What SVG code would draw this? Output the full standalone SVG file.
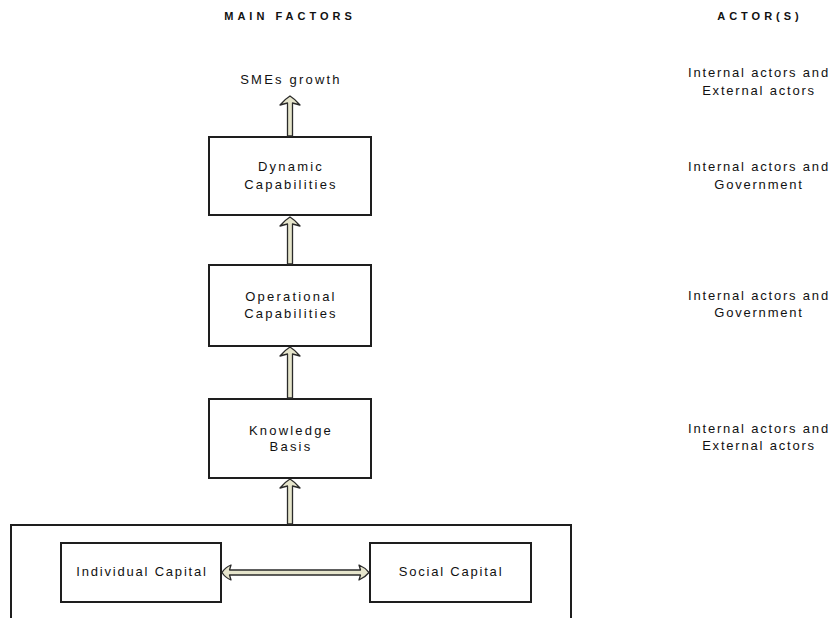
<svg xmlns="http://www.w3.org/2000/svg" width="833" height="618" viewBox="0 0 833 618">
<style>
  .bg { fill: #ffffff; }
  .box { fill: #ffffff; stroke: #1e1e1e; stroke-width: 2; }
  .t { font-family: "Liberation Sans", Arial, sans-serif; font-size: 13px; fill: #111111; text-anchor: middle; letter-spacing: 2.2px; }
  .h { font-family: "Liberation Sans", Arial, sans-serif; font-size: 11px; font-weight: bold; fill: #111111; text-anchor: middle; letter-spacing: 4px; }
  .act { font-family: "Liberation Sans", Arial, sans-serif; font-size: 13px; fill: #111111; text-anchor: middle; letter-spacing: 1.8px; }
  .arr { fill: #e6e5cc; stroke: #2a2a2a; stroke-width: 1.3; stroke-linejoin: round; }
</style>
<rect class="bg" x="0" y="0" width="833" height="618"/>

<g id="headers">
  <text class="h" x="290" y="20">MAIN FACTORS</text>
  <text class="h" x="760" y="20">ACTOR(S)</text>
</g>

<g id="smes-growth">
  <text class="t" x="291" y="83.5">SMEs growth</text>
</g>

<g id="dynamic-capabilities">
  <rect class="box" x="209" y="137" width="162" height="78"/>
  <text class="t" x="291" y="170.5">Dynamic</text>
  <text class="t" x="291" y="188.5">Capabilities</text>
</g>

<g id="operational-capabilities">
  <rect class="box" x="209" y="265" width="162" height="81"/>
  <text class="t" x="291" y="300.5">Operational</text>
  <text class="t" x="291" y="317.5">Capabilities</text>
</g>

<g id="knowledge-basis">
  <rect class="box" x="209" y="399" width="162" height="79"/>
  <text class="t" x="291" y="434.5">Knowledge</text>
  <text class="t" x="291" y="450.5">Basis</text>
</g>

<g id="capital-group">
  <rect class="box" x="11" y="525" width="560" height="110"/>
</g>

<g id="individual-capital">
  <rect class="box" x="61" y="543" width="160" height="59"/>
  <text class="act" x="142" y="575.5">Individual Capital</text>
</g>

<g id="social-capital">
  <rect class="box" x="370" y="543" width="161" height="59"/>
  <text class="act" x="451" y="575.5">Social Capital</text>
</g>

<g id="actors">
  <text class="act" x="759" y="76.5">Internal actors and</text>
  <text class="act" x="759" y="94.5">External actors</text>
  <text class="act" x="759" y="170.5">Internal actors and</text>
  <text class="act" x="759" y="188.5">Government</text>
  <text class="act" x="759" y="299.5">Internal actors and</text>
  <text class="act" x="759" y="316.5">Government</text>
  <text class="act" x="759" y="432.5">Internal actors and</text>
  <text class="act" x="759" y="449.5">External actors</text>
</g>

<g id="connectors">
  <path class="arr" d="M290,96 Q295,99 300,105 L292.5,103 L292.5,136 L287.5,136 L287.5,103 L280,105 Q285,99 290,96 Z"/>
  <path class="arr" d="M290,217 Q295,220 300,226 L292.5,224 L292.5,264 L287.5,264 L287.5,224 L280,226 Q285,220 290,217 Z"/>
  <path class="arr" d="M290,347 Q295,350 300,356 L292.5,354 L292.5,398 L287.5,398 L287.5,354 L280,356 Q285,350 290,347 Z"/>
  <path class="arr" d="M290,479 Q295,482 300,488 L292.5,486 L292.5,524 L287.5,524 L287.5,486 L280,488 Q285,482 290,479 Z"/>
  <path class="arr" d="M222,572.5 Q225,567.5 231,565 L229.5,570 L360.5,570 L359,565 Q365,567.5 369,572.5 Q365,577.5 359,580 L360.5,575 L229.5,575 L231,580 Q225,577.5 222,572.5 Z"/>
</g>
</svg>
